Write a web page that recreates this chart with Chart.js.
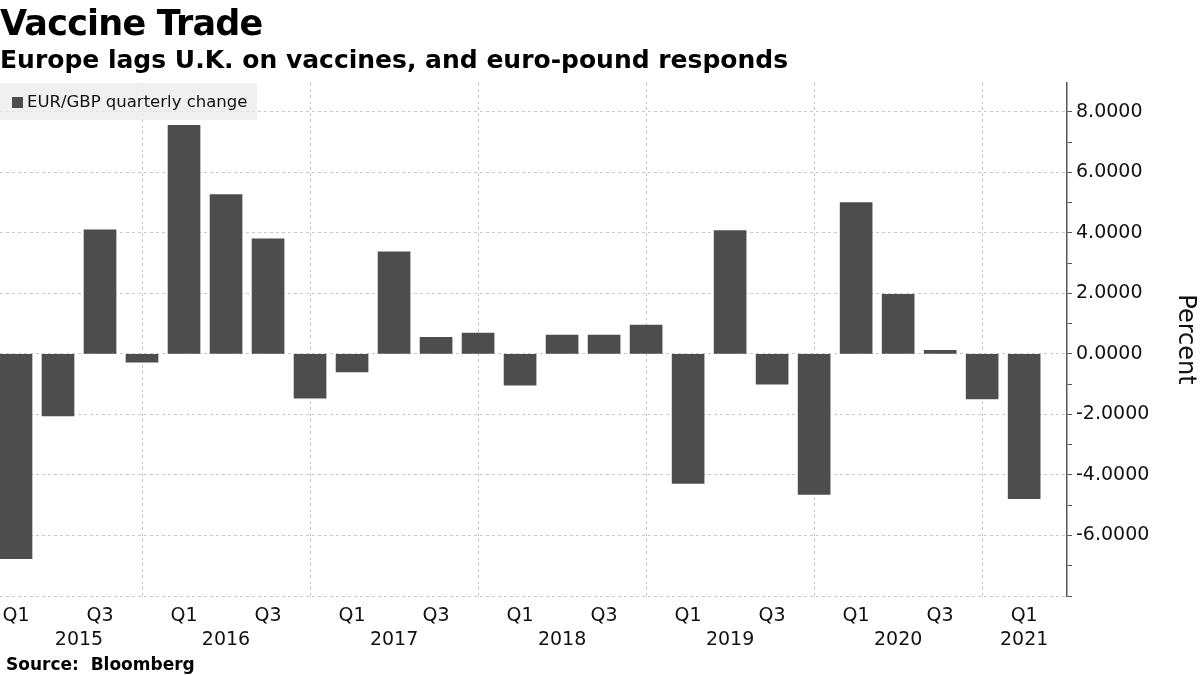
<!DOCTYPE html>
<html>
<head>
<meta charset="utf-8">
<script src="https://cdn.jsdelivr.net/npm/chart.js@4/dist/chart.umd.min.js"></script>
<style>
  body { margin: 0; background: #fff; }
  #wrap { position: relative; width: 1200px; height: 675px; overflow: hidden; }
  #chart { position: absolute; left: 0; top: 0; }
  .txt { position: absolute; left: 0; white-space: nowrap; color: #000; font-family: "DejaVu Sans", sans-serif; font-weight: bold; }
  #title { top: 6px; font-size: 35px; line-height: 35px; letter-spacing: -0.8px; }
  #subtitle { top: 47px; font-size: 25px; line-height: 25px; }
  #source { top: 656px; left: 6px; font-size: 17px; line-height: 17px; }
</style>
</head>
<body>
<div id="wrap">
  <canvas id="chart" width="1200" height="675"></canvas>
  <div class="txt" id="title">Vaccine Trade</div>
  <div class="txt" id="subtitle">Europe lags U.K. on vaccines, and euro-pound responds</div>
  <div class="txt" id="source">Source:&nbsp; Bloomberg</div>
</div>
<script>
// quarterly EUR/GBP change, Q1 2015 .. Q1 2021
const quarterLabels = [
  "Q1","Q2","Q3","Q4", "Q1","Q2","Q3","Q4", "Q1","Q2","Q3","Q4",
  "Q1","Q2","Q3","Q4", "Q1","Q2","Q3","Q4", "Q1","Q2","Q3","Q4", "Q1"
];
const values = [
  -6.77, -2.05, 4.10, -0.27,
   7.55,  5.26, 3.80, -1.46,
  -0.60,  3.37, 0.55,  0.69,
  -1.03,  0.62, 0.62,  0.95,
  -4.28,  4.07, -1.00, -4.64,
   5.00,  1.97, 0.12, -1.49,
  -4.78
];
const yearLabels = ["2015", "2016", "2017", "2018", "2019", "2020", "2021"];
const yearPos    = [1.5, 5, 9, 13, 17, 21, 24];
const yTicks     = [-8, -7, -6, -5, -4, -3, -2, -1, 0, 1, 2, 3, 4, 5, 6, 7, 8];
const seriesName = "EUR/GBP quarterly change";

const BAR = "#4d4d4d";
const GRID = "#c8c8c8";
const AXIS = "#555555";
const TICK_FONT = { family: "DejaVu Sans", size: 19 };

// legend box sitting on top of the plot, like the original
const legendBox = {
  id: "legendBox",
  beforeDatasetsDraw(chart) {
    const { ctx, chartArea: a } = chart;
    ctx.save();
    ctx.fillStyle = "rgba(236,236,236,0.8)";
    ctx.fillRect(a.left, a.top, 257, 37);
    ctx.fillStyle = BAR;
    ctx.fillRect(a.left + 12, a.top + 14, 11, 11);
    ctx.fillStyle = "#111";
    ctx.font = "16.5px 'DejaVu Sans'";
    ctx.textBaseline = "middle";
    ctx.fillText(seriesName, a.left + 27, a.top + 20);
    ctx.restore();
  }
};

// the plot runs right up to the left edge of the canvas
function noSidePad(s, h) {
  s.height = h;
  s.paddingLeft = 0;
  s.paddingRight = 0;
}

new Chart(document.getElementById("chart"), {
  type: "bar",
  data: {
    datasets: [{
      label: seriesName,
      xAxisID: "x",
      data: values.map((v, i) => ({ x: i, y: v })),
      backgroundColor: BAR,
      borderWidth: 0,
      barThickness: 32,
    }]
  },
  options: {
    responsive: false,
    animation: false,
    layout: { padding: { top: 83, bottom: 25, left: 0, right: 0 } },
    plugins: {
      legend: { display: false },
      tooltip: { enabled: false },
    },
    scales: {
      x: {
        type: "linear",
        position: "bottom",
        offset: false,
        min: -0.381,
        max: 25.02,
        afterBuildTicks: s => { s.ticks = quarterLabels.map((_, i) => ({ value: i })); },
        afterFit: s => noSidePad(s, 30),
        ticks: {
          autoSkip: false,
          maxRotation: 0,
          padding: 9,
          color: "#111",
          font: TICK_FONT,
          callback: v => {
            const q = quarterLabels[v];
            return (q === "Q1" || q === "Q3") ? q : "";
          },
        },
        grid: {
          offset: false,
          drawTicks: false,
          color: c => (c.tick && quarterLabels[c.tick.value] === "Q4") ? GRID : "rgba(0,0,0,0)",
        },
        border: { display: false, dash: [3, 3] },
      },
      years: {
        type: "linear",
        position: "bottom",
        offset: false,
        min: -0.381,
        max: 25.02,
        afterBuildTicks: s => { s.ticks = yearPos.map(p => ({ value: p })); },
        afterFit: s => noSidePad(s, 24),
        ticks: {
          autoSkip: false,
          maxRotation: 0,
          padding: 3,
          color: "#111",
          font: TICK_FONT,
          callback: (v, i) => yearLabels[i],
        },
        grid: { display: false, offset: false, drawTicks: false },
        border: { display: false },
      },
      y: {
        position: "right",
        min: -8,
        max: 8.95,
        afterBuildTicks: s => { s.ticks = yTicks.map(v => ({ value: v })); },
        afterFit: s => { s.width = 133; },
        ticks: {
          autoSkip: false,
          padding: 4,
          color: "#111",
          font: TICK_FONT,
          callback: v => (v % 2 === 0 && v !== -8) ? v.toFixed(4) : "",
        },
        grid: {
          color: c => (c.tick && c.tick.value % 2 === 0) ? GRID : "rgba(0,0,0,0)",
          tickColor: AXIS,
          tickLength: 5,
        },
        border: { display: true, color: AXIS, width: 1.5, dash: [3, 3] },
        title: {
          display: true,
          text: "Percent",
          color: "#111",
          font: { family: "DejaVu Sans", size: 24 },
          padding: { top: 0, bottom: 0 },
        },
      },
    },
  },
  plugins: [legendBox],
});
</script>
</body>
</html>
